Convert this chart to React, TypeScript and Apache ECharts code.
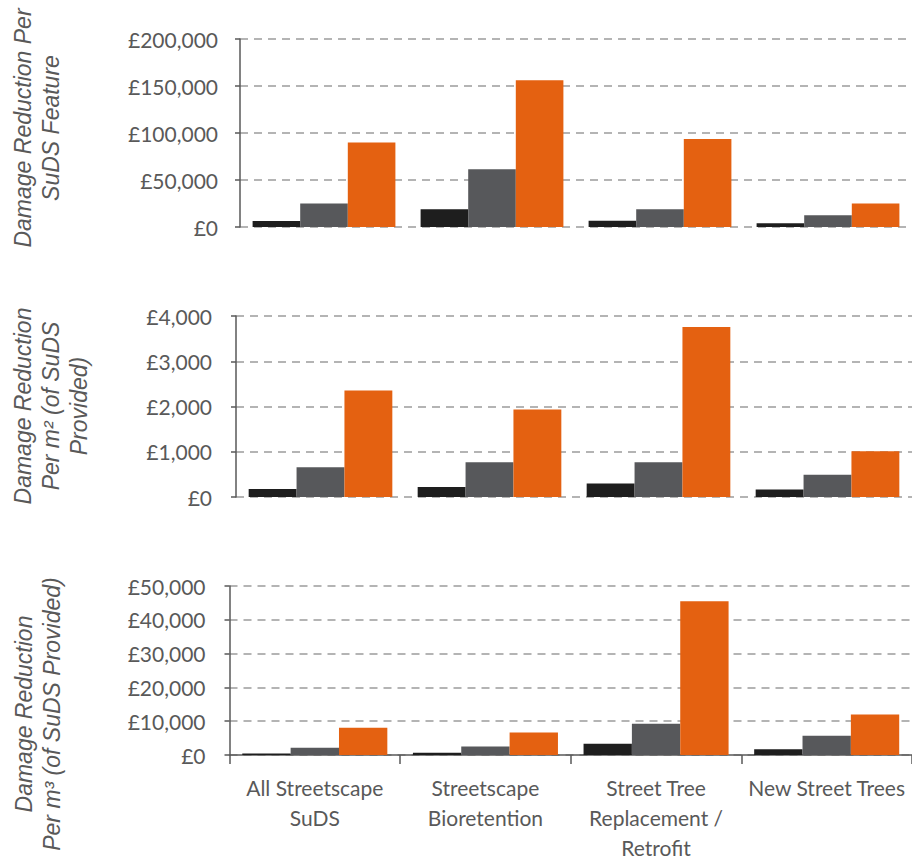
import React, { useEffect, useRef } from "react";
import * as echarts from "echarts";

const categories = [
  "All Streetscape\nSuDS",
  "Streetscape\nBioretention",
  "Street Tree\nReplacement /\nRetrofit",
  "New Street Trees",
];

// Panel 1: Damage reduction per SuDS feature (£)
const perFeatureLow = [6500, 19000, 6700, 3900];
const perFeatureMid = [25000, 61500, 18800, 12400];
const perFeatureHigh = [90000, 156000, 93500, 25000];

// Panel 2: Damage reduction per m² of SuDS provided (£)
const perAreaLow = [178, 222, 296, 163];
const perAreaMid = [660, 770, 770, 490];
const perAreaHigh = [2355, 1935, 3755, 1010];

// Panel 3: Damage reduction per m³ of SuDS provided (£)
const perVolumeLow = [450, 680, 3330, 1670];
const perVolumeMid = [2150, 2550, 9220, 5690];
const perVolumeHigh = [8050, 6670, 45500, 11950];

const seriesNames = ["Series 1", "Series 2", "Series 3"];
const colors = ["#1e1e1e", "#57585b", "#e46111"];

const axisNames = [
  "Damage Reduction Per\nSuDS Feature",
  "Damage Reduction\nPer m² (of SuDS\nProvided)",
  "Damage Reduction\nPer m³ (of SuDS Provided)",
];

const yMax = [200000, 4000, 50000];
const yInterval = [50000, 1000, 10000];

const TEXT = "#595959";

export default function App() {
  const ref = useRef<HTMLDivElement>(null);

  useEffect(() => {
    if (!ref.current) return;
    const chart = echarts.init(ref.current, null, { renderer: "svg" });

    const grids = [
      { left: 240, right: 0, top: 39, height: 188 },
      { left: 236, right: 0, top: 316, height: 181 },
      { left: 229.5, right: 0, top: 586, height: 173 },
    ];

    const fmt = (v: number) => "£" + Math.round(v).toLocaleString("en-GB");

    const yAxes = grids.map((_, i) => ({
      type: "value",
      gridIndex: i,
      min: 0,
      max: yMax[i],
      interval: yInterval[i],
      axisLine: { show: true, lineStyle: { color: TEXT, width: 1.5 } },
      axisTick: { show: true, length: 5, lineStyle: { color: TEXT, width: 1.5 } },
      axisLabel: {
        color: TEXT,
        fontFamily: "Lato",
        fontSize: 21,
        margin: i === 0 ? 22 : 24,
        formatter: fmt,
      },
      splitLine: {
        show: true,
        lineStyle: { color: "#b4b4b4", width: 2, type: [8, 6] },
      },
    }));

    const xAxes = grids.map((_, i) => ({
      type: "category",
      gridIndex: i,
      data: categories,
      axisLine: { show: i === 2, onZero: false, lineStyle: { color: TEXT, width: 1.5 } },
      axisTick: { show: i === 2, length: 9, lineStyle: { color: TEXT, width: 1.5 } },
      axisLabel: {
        show: i === 2,
        color: TEXT,
        fontFamily: "Lato",
        fontSize: 21,
        lineHeight: 30,
        margin: 17,
        interval: 0,
      },
      splitLine: { show: false },
    }));

    const panels = [
      [perFeatureLow, perFeatureMid, perFeatureHigh],
      [perAreaLow, perAreaMid, perAreaHigh],
      [perVolumeLow, perVolumeMid, perVolumeHigh],
    ];

    const series: any[] = [];
    panels.forEach((sets, p) => {
      sets.forEach((data, s) => {
        series.push({
          type: "bar",
          name: seriesNames[s],
          xAxisIndex: p,
          yAxisIndex: p,
          data,
          barGap: "0%",
          barCategoryGap: "15%",
          itemStyle: { color: colors[s] },
        });
      });
    });

    const namePos = [
      { x: 37, y: 128 },
      { x: 51, y: 406 },
      { x: 38, y: 714 },
    ];

    const graphic = axisNames.map((t, i) => ({
      type: "text",
      x: namePos[i].x,
      y: namePos[i].y,
      rotation: Math.PI / 2,
      style: {
        text: t,
        fill: TEXT,
        font: "italic 23px 'Liberation Sans', Arial, sans-serif",
        fontStyle: "italic",
        fontSize: 23,
        fontFamily: "Liberation Sans",
        lineHeight: 28,
        align: "center",
        verticalAlign: "middle",
        textAlign: "center",
        textVerticalAlign: "middle",
      },
    }));

    chart.setOption({
      animation: false,
      backgroundColor: "#ffffff",
      grid: grids,
      xAxis: xAxes,
      yAxis: yAxes,
      series,
      graphic,
    });

    return () => chart.dispose();
  }, []);

  return (
    <div
      ref={ref}
      style={{ position: "absolute", left: 0, top: 0, width: 912, height: 862 }}
    />
  );
}
